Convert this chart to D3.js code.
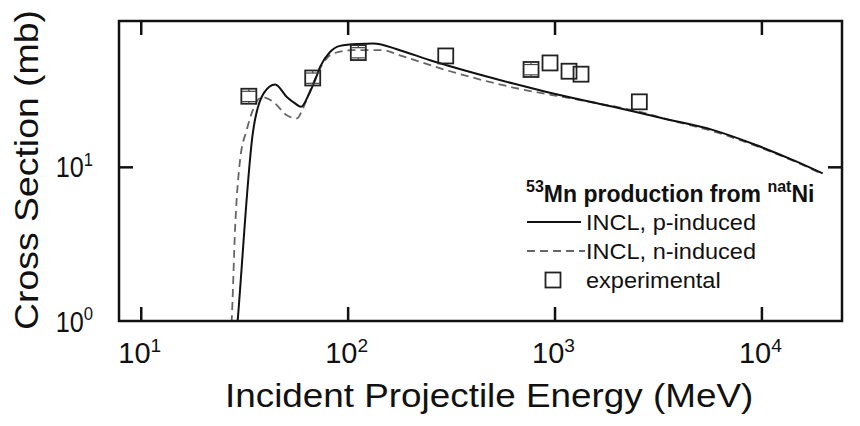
<!DOCTYPE html>
<html>
<head>
<meta charset="utf-8">
<script src="https://cdn.jsdelivr.net/npm/d3@7"></script>
<style>
  body { margin: 0; background: #fff; }
  text { font-family: "Liberation Sans", Arial, sans-serif; fill: #111; }
</style>
</head>
<body>
<div id="chart"></div>
<script>
// values
var energyTicks = [10, 100, 1000, 10000];
var sigmaTicks = [1, 10];

// INCL, p-induced (MeV, mb)
var pEnergy = [29.0, 29.4, 34.8, 39.4, 44.6, 50.8, 55.7, 59.5, 64.6, 69.6, 73.6, 82.2, 91.9, 112.6, 132.7, 179, 250, 301, 632, 917, 1923, 3357, 5855, 9490, 14810, 19770];
var pSigma = [0.8, 1.0, 16.5, 30.2, 34.2, 28.4, 25.8, 24.5, 29.1, 36.5, 44.5, 55.6, 60.9, 62.7, 63.1, 57.1, 49.1, 45.6, 34.7, 30.6, 24.5, 20.6, 17.3, 13.8, 10.8, 9.06];

// INCL, n-induced
var nEnergy = [27.2, 27.5, 28.6, 30.2, 32.5, 34.8, 38.5, 43.7, 50.8, 56.8, 60.9, 66.6, 73.6, 85.0, 106.2, 148.3, 179, 301, 632, 1328, 2590, 3615, 5855, 9490, 14810, 19770];
var nSigma = [0.8, 1.0, 4.08, 11.05, 17.3, 23.3, 28.4, 26.4, 21.6, 20.6, 24.0, 32.4, 43.6, 54.3, 57.1, 57.1, 52.9, 42.3, 32.7, 27.1, 22.7, 20.1, 17.0, 13.6, 10.7, 8.95];

// experimental
var expEnergy = [33.3, 67.8, 112.6, 298, 770, 951, 1175, 1343, 2570];
var expSigma = [28.7, 37.7, 55.1, 52.4, 42.8, 47.2, 41.7, 39.9, 26.4];
var expErr = [2.2, 2.9, 4.2, 0, 3.3, 0, 0, 0, 0];

var legendLabels = ['INCL, p-induced', 'INCL, n-induced', 'experimental'];

var margin = { top: 21, right: 18, bottom: 105, left: 119 },
    fullWidth = 860, fullHeight = 426,
    width = fullWidth - margin.left - margin.right,
    height = fullHeight - margin.top - margin.bottom;

var x = d3.scaleLog().domain([7.85, 24520]).range([0, width]);
var y = d3.scaleLog().domain([1, 88.3]).range([height, 0]);

var svg = d3.select('#chart').append('svg')
    .attr('width', fullWidth)
    .attr('height', fullHeight);

var g = svg.append('g')
    .attr('transform', `translate(${margin.left},${margin.top})`);

g.append('clipPath').attr('id', 'plot-clip')
    .append('rect').attr('width', width).attr('height', height);

// curves
var line = d3.line()
    .x(function (d) { return x(d[0]); })
    .y(function (d) { return y(d[1]); })
    .curve(d3.curveMonotoneX);

var pData = pEnergy.map(function (e, i) { return [e, pSigma[i]]; });
var nData = nEnergy.map(function (e, i) { return [e, nSigma[i]]; });

g.append('path')
    .datum(nData)
    .attr('clip-path', 'url(#plot-clip)')
    .attr('fill', 'none')
    .attr('stroke', '#666')
    .attr('stroke-width', 1.8)
    .attr('stroke-dasharray', '8,5')
    .attr('d', line);

g.append('path')
    .datum(pData)
    .attr('clip-path', 'url(#plot-clip)')
    .attr('fill', 'none')
    .attr('stroke', '#111')
    .attr('stroke-width', 2)
    .attr('d', line);

// experimental points
var sq = 15;
var pts = g.selectAll('.pt')
    .data(expEnergy.map(function (e, i) { return { e: e, s: expSigma[i], err: expErr[i] }; }))
    .enter().append('g')
    .attr('class', 'pt')
    .attr('transform', function (d) { return `translate(${x(d.e)},${y(d.s)})`; });

pts.append('rect')
    .attr('x', -sq / 2).attr('y', -sq / 2)
    .attr('width', sq).attr('height', sq)
    .attr('fill', 'none')
    .attr('stroke', '#222')
    .attr('stroke-width', 1.8);

pts.filter(function (d) { return d.err > 0; }).each(function (d) {
    var el = d3.select(this);
    var top = y(d.s + d.err) - y(d.s), bot = y(d.s - d.err) - y(d.s);
    [top, bot].forEach(function (yy) {
        el.append('line').attr('x1', -sq / 2).attr('x2', sq / 2)
            .attr('y1', yy).attr('y2', yy)
            .attr('stroke', '#444').attr('stroke-width', 1.2);
        el.append('line').attr('x1', 0).attr('x2', 0)
            .attr('y1', yy).attr('y2', yy < 0 ? -sq / 2 : sq / 2)
            .attr('stroke', '#444').attr('stroke-width', 1.2);
    });
});

// frame
g.append('rect')
    .attr('width', width).attr('height', height)
    .attr('fill', 'none')
    .attr('stroke', '#111')
    .attr('stroke-width', 2.5);

// inward ticks on all four sides
var tick = 14;
function noLabels(sel) { sel.select('.domain').remove(); sel.selectAll('text').remove(); sel.selectAll('line').attr('stroke', '#111').attr('stroke-width', 2.5); }

g.append('g').attr('transform', `translate(0,${height})`)
    .call(d3.axisBottom(x).tickValues(energyTicks).tickSize(-tick)).call(noLabels);
g.append('g')
    .call(d3.axisTop(x).tickValues(energyTicks).tickSize(-tick)).call(noLabels);
g.append('g')
    .call(d3.axisLeft(y).tickValues(sigmaTicks.slice(1)).tickSize(-tick)).call(noLabels);
g.append('g').attr('transform', `translate(${width},0)`)
    .call(d3.axisRight(y).tickValues(sigmaTicks.slice(1)).tickSize(-tick)).call(noLabels);

// power-of-ten labels
function powLabel(sel, v) {
    var p = Math.round(Math.log10(v));
    sel.text('10');
    sel.append('tspan').attr('dy', '-0.58em').style('font-size', '0.66em').text(p);
}

g.selectAll('.xlab').data(energyTicks).enter().append('text')
    .attr('class', 'xlab')
    .attr('x', function (d) { return x(d) - 1; })
    .attr('y', height + 42)
    .attr('text-anchor', 'middle')
    .style('font-size', '29px')
    .each(function (d) { powLabel(d3.select(this), d); });

g.selectAll('.ylab').data(sigmaTicks).enter().append('text')
    .attr('class', 'ylab')
    .attr('transform', function (d) { return `translate(-26,${y(d) + 10.5}) scale(0.87,1)`; })
    .attr('text-anchor', 'end')
    .style('font-size', '29px')
    .each(function (d) { powLabel(d3.select(this), d); });

// axis titles
svg.append('text')
    .attr('transform', 'translate(225,407) scale(1.1,1)')
    .style('font-size', '33.5px')
    .text('Incident Projectile Energy (MeV)');

svg.append('text')
    .attr('transform', 'translate(38,170) rotate(-90) scale(1.15,1)')
    .attr('text-anchor', 'middle')
    .style('font-size', '32.5px')
    .text('Cross Section (mb)');

// legend
var lg = svg.append('g');
var title = lg.append('text')
    .attr('x', 526).attr('y', 202)
    .style('font-size', '23px')
    .style('font-weight', 'bold');
title.append('tspan').style('font-size', '16px').attr('dy', '-10').text('53');
title.append('tspan').attr('dy', '10').text('Mn production from ');
title.append('tspan').style('font-size', '16px').attr('dy', '-10').text('nat');
title.append('tspan').attr('dy', '10').text('Ni');

lg.append('line').attr('x1', 527).attr('x2', 581).attr('y1', 222).attr('y2', 222)
    .attr('stroke', '#111').attr('stroke-width', 2);
lg.append('line').attr('x1', 527).attr('x2', 585).attr('y1', 251).attr('y2', 251)
    .attr('stroke', '#666').attr('stroke-width', 1.8).attr('stroke-dasharray', '8,5');
lg.append('rect').attr('x', 553 - sq / 2).attr('y', 280 - sq / 2)
    .attr('width', sq).attr('height', sq)
    .attr('fill', 'none').attr('stroke', '#222').attr('stroke-width', 1.8);

lg.selectAll('.lt').data(legendLabels).enter().append('text')
    .attr('class', 'lt')
    .attr('transform', function (d, i) { return `translate(586,${230 + i * 29}) scale(1.07,1)`; })
    .style('font-size', '22px')
    .text(function (d) { return d; });
</script>
</body>
</html>
